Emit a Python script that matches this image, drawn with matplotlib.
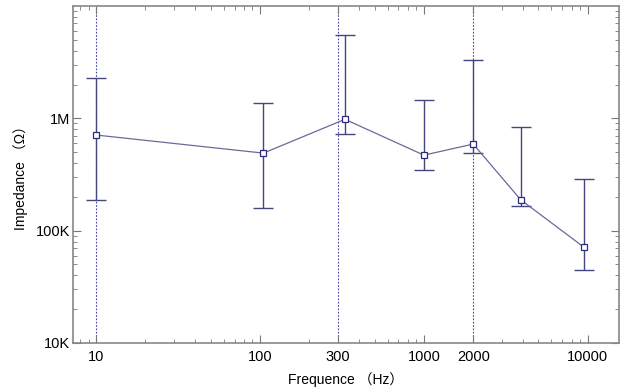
import matplotlib.pyplot as plt
from matplotlib.ticker import FixedLocator, FixedFormatter, LogLocator, NullFormatter

# data
freq = [10, 105, 330, 1000, 2000, 3900, 9500]
imped = [7.1e5, 4.9e5, 9.8e5, 4.7e5, 5.9e5, 1.88e5, 7.1e4]
err_hi = [2.3e6, 1.38e6, 5.5e6, 1.47e6, 3.3e6, 8.3e5, 2.9e5]
err_lo = [1.88e5, 1.6e5, 7.2e5, 3.46e5, 4.9e5, 1.67e5, 4.5e4]
vlines = [10, 300, 2000]
xticks = [10, 100, 300, 1000, 2000, 10000]
xtick_labels = ["10", "100", "300", "1000", "2000", "10000"]
yticks = [1e4, 1e5, 1e6]
ytick_labels = ["10K", "100K", "1M"]

FONT = ["Liberation Sans", "Noto Sans CJK SC", "DejaVu Sans"]
plt.rcParams["font.family"] = FONT

fig = plt.figure(figsize=(6.21, 3.91), dpi=100)
ax = fig.add_axes([0.1176, 0.1228, 0.8792, 0.8619])
ax.set_xscale("log")
ax.set_yscale("log")
ax.set_xlim(7.24, 15500)
ax.set_ylim(1e4, 1e7)

for v in vlines:
    ax.axvline(v, color="#4444aa", linestyle=(0, (1.5, 1.5)), linewidth=0.8, zorder=1)

lower = [m - lo for m, lo in zip(imped, err_lo)]
upper = [hi - m for m, hi in zip(imped, err_hi)]
ax.errorbar(freq, imped, yerr=[lower, upper], fmt="none", ecolor="#45457f",
            elinewidth=1.0, capsize=7, capthick=1.0, zorder=2)
ax.plot(freq, imped, color="#6a6a98", linewidth=0.9, marker="s", markersize=3.8,
        markerfacecolor="white", markeredgecolor="#2c2c7c", markeredgewidth=0.9, zorder=3)

ax.xaxis.set_major_locator(FixedLocator(xticks))
ax.xaxis.set_major_formatter(FixedFormatter(xtick_labels))
ax.xaxis.set_minor_locator(LogLocator(base=10, subs=range(2, 10)))
ax.xaxis.set_minor_formatter(NullFormatter())
ax.yaxis.set_major_locator(FixedLocator(yticks))
ax.yaxis.set_major_formatter(FixedFormatter(ytick_labels))
ax.yaxis.set_minor_locator(LogLocator(base=10, subs=range(2, 10)))
ax.yaxis.set_minor_formatter(NullFormatter())

ax.tick_params(which="both", direction="in", top=True, right=True, color="#777777",
               labelsize=10.5, labelcolor="black")
ax.tick_params(axis="x", pad=5)
ax.tick_params(axis="y", pad=2)
ax.tick_params(which="major", length=6, width=0.8)
ax.tick_params(which="minor", length=3, width=0.6)
for s in ax.spines.values():
    s.set_color("#888888")
    s.set_linewidth(1.2)

ax.set_xlabel("Frequence （Hz）", fontsize=10, labelpad=6)
ax.set_ylabel("Impedance （Ω）", fontsize=10, labelpad=6)

fig.savefig("out.png", dpi=100, facecolor="white")
